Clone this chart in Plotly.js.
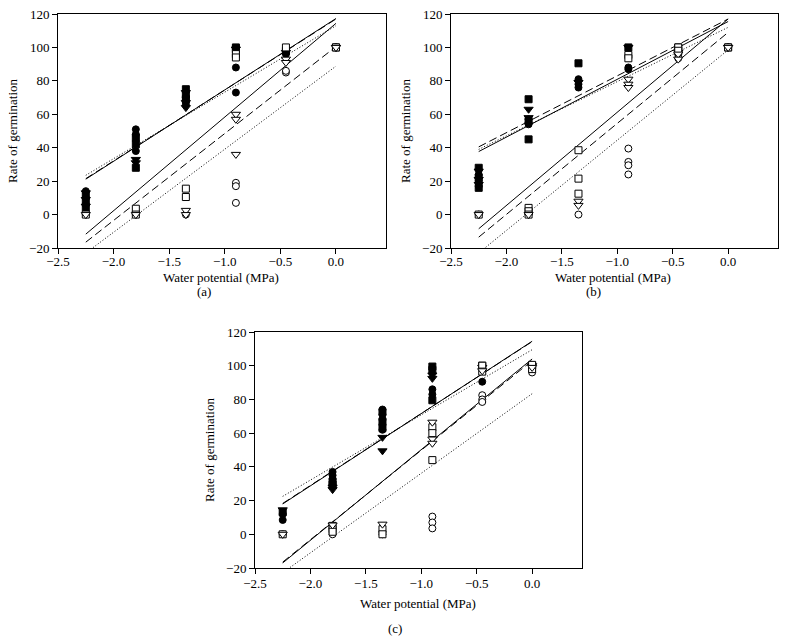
<!DOCTYPE html>
<html>
<head>
<meta charset="utf-8">
<script src="https://cdn.plot.ly/plotly-3.0.1.min.js"></script>
<style>html,body{margin:0;padding:0;background:#fff;}#chart{width:786px;height:642px;}</style>
</head>
<body>
<div id="chart"></div>
<script>
// ---------- Panel (a) ----------
var A_fc_x = [-2.25,-2.25,-2.25,-1.8,-1.8,-1.8,-1.35,-1.35,-1.35,-0.9,-0.9,-0.45,-0.45,0];
var A_fc_y = [14,10,6,51,48,38,70,68,66,88,73,96,97,100];
var A_fs_x = [-2.25,-2.25,-2.25,-1.8,-1.8,-1.8,-1.35,-1.35,-1.35,-0.9,-0.9,-0.45,0];
var A_fs_y = [12,8,4,46,42,28,75,72,69,100,99,98,100];
var A_ft_x = [-2.25,-2.25,-2.25,-1.8,-1.8,-1.35,-1.35,-1.35,-0.9,-0.45,0];
var A_ft_y = [13,9,5,33,31,73,67,64,99,97,100];
var A_oc_x = [-2.25,-1.8,-1.35,-0.9,-0.9,-0.9,-0.45,-0.45,0];
var A_oc_y = [0,0,0,19,17,7,85,86,100];
var A_os_x = [-2.25,-1.8,-1.8,-1.35,-1.35,-0.9,-0.9,-0.45,0];
var A_os_y = [0,3.5,0,15.5,10.5,96,94,100,100];
var A_ot_x = [-2.25,-1.8,-1.35,-1.35,-0.9,-0.9,-0.9,-0.45,-0.45,0];
var A_ot_y = [0,0,2.5,0,60,57,36,93,91,100];
// ---------- Panel (b) ----------
var B_fc_x = [-2.25,-2.25,-2.25,-1.8,-1.8,-1.8,-1.35,-1.35,-1.35,-0.9,-0.9,-0.45,0];
var B_fc_y = [24,20,17,57,55,54,81,78,76,88,87,96,100];
var B_fs_x = [-2.25,-2.25,-2.25,-1.8,-1.8,-1.8,-1.35,-0.9,-0.45,0];
var B_fs_y = [28,22,16,69,56,45,90.5,100,100,100];
var B_ft_x = [-2.25,-2.25,-2.25,-1.8,-1.8,-1.35,-0.9,-0.45,0];
var B_ft_y = [26,21,18,63,58,79,100,97,100];
var B_oc_x = [-2.25,-1.8,-1.35,-0.9,-0.9,-0.9,-0.9,-0.45,0];
var B_oc_y = [0,0,0,39.5,31.5,29.5,24,93.5,100];
var B_os_x = [-2.25,-1.8,-1.8,-1.8,-1.35,-1.35,-1.35,-0.9,-0.9,-0.45,-0.45,0];
var B_os_y = [0,4,2,0,38.5,21.5,12.5,95.5,93.5,100,98,100];
var B_ot_x = [-2.25,-1.8,-1.35,-1.35,-0.9,-0.9,-0.9,-0.45,-0.45,0];
var B_ot_y = [0,0,8,5.5,81,78,76,96,93,100];
// ---------- Panel (c) ----------
var C_fc_x = [-2.25,-2.25,-1.8,-1.8,-1.8,-1.35,-1.35,-1.35,-1.35,-1.35,-0.9,-0.9,-0.45,0];
var C_fc_y = [12,8.5,37,35,33,74,71,68,65,62,86,83,90.5,100];
var C_fs_x = [-2.25,-1.8,-1.8,-1.35,-1.35,-1.35,-0.9,-0.9,-0.9,-0.45,0];
var C_fs_y = [13,31,29.5,72.5,67,63,99.5,97.5,79.5,100,100];
var C_ft_x = [-2.25,-1.8,-1.8,-1.35,-1.35,-0.9,-0.9,-0.45,0];
var C_ft_y = [14.5,28,26.5,57.5,49.5,94.5,92.5,99,100];
var C_oc_x = [-2.25,-1.8,-1.35,-0.9,-0.9,-0.9,-0.45,-0.45,-0.45,0];
var C_oc_y = [0,0,0,10.5,7,3.5,82.5,80,78.5,96];
var C_os_x = [-2.25,-1.8,-1.8,-1.8,-1.35,-1.35,-0.9,-0.9,-0.9,-0.45,-0.45,0,0];
var C_os_y = [0,5,3,1.5,3,0,63.5,60,44,100,96.5,100.5,98];
var C_ot_x = [-2.25,-1.8,-1.35,-0.9,-0.9,-0.9,-0.45,0];
var C_ot_y = [0,5.5,6,66.5,56.5,54,97,99];

// ---------- Fitted lines (values at x = -2.25 and 0) ----------
var lineX = [-2.25, 0];
var A_up_solid = [21.2,117.3], A_up_dash = [21.5,117], A_up_dot = [23.5,113];
var A_lo_solid = [-11.7,114.4], A_lo_dash = [-16.5,100.5], A_lo_dot = [-23,88.8];
var B_up_solid = [37.7,115.5], B_up_dash = [40.5,117], B_up_dot = [39,112];
var B_lo_solid = [-8.5,117], B_lo_dash = [-13.5,109], B_lo_dot = [-23,98.5];
var C_up_solid = [18,114.5], C_up_dash = [18.3,114.3], C_up_dot = [22.5,109.5];
var C_lo_solid = [-17,104], C_lo_dash = [-16.5,103], C_lo_dot = [-22.8,83.4];

var xTickVals = [-2.5,-2.0,-1.5,-1.0,-0.5,0.0];
var yTickVals = [-20,0,20,40,60,80,100,120];
var xTitle = 'Water potential (MPa)';
var yTitle = 'Rate of germination';
var panelLabels = ['(a)','(b)','(c)'];

var FONT = 'Liberation Serif, Times New Roman, serif';
var FS = 13;
var traces = [];
function pts(x, y, sym, open, xa, ya) {
  traces.push({x: x, y: y, type: 'scatter', mode: 'markers', xaxis: xa, yaxis: ya,
    showlegend: false, hoverinfo: 'x+y', cliponaxis: false,
    marker: {symbol: sym, size: sym.indexOf('triangle') >= 0 ? 8 : 7, color: open ? '#fff' : '#000',
             line: {color: '#000', width: 1}}});
}
function ln(y, dash, xa, ya) {
  traces.push({x: lineX, y: y, type: 'scatter', mode: 'lines', xaxis: xa, yaxis: ya,
    showlegend: false, hoverinfo: 'skip', line: {color: '#000', width: 1, dash: dash}});
}
var panels = [
  {xa: 'x', ya: 'y', d: [[A_fc_x,A_fc_y],[A_fs_x,A_fs_y],[A_ft_x,A_ft_y],[A_oc_x,A_oc_y],[A_os_x,A_os_y],[A_ot_x,A_ot_y]],
   l: [A_up_solid,A_up_dash,A_up_dot,A_lo_solid,A_lo_dash,A_lo_dot]},
  {xa: 'x2', ya: 'y2', d: [[B_fc_x,B_fc_y],[B_fs_x,B_fs_y],[B_ft_x,B_ft_y],[B_oc_x,B_oc_y],[B_os_x,B_os_y],[B_ot_x,B_ot_y]],
   l: [B_up_solid,B_up_dash,B_up_dot,B_lo_solid,B_lo_dash,B_lo_dot]},
  {xa: 'x3', ya: 'y3', d: [[C_fc_x,C_fc_y],[C_fs_x,C_fs_y],[C_ft_x,C_ft_y],[C_oc_x,C_oc_y],[C_os_x,C_os_y],[C_ot_x,C_ot_y]],
   l: [C_up_solid,C_up_dash,C_up_dot,C_lo_solid,C_lo_dash,C_lo_dot]}
];
var syms = ['circle','square','triangle-down','circle','square','triangle-down'];
var isOpen = [false,false,false,true,true,true];
var dashes = ['solid','8px,4px','1px,2px','solid','8px,4px','1px,2px'];
panels.forEach(function(p){
  p.l.forEach(function(y,i){ ln(y, dashes[i], p.xa, p.ya); });
  p.d.forEach(function(s,i){ pts(s[0], s[1], syms[i], isOpen[i], p.xa, p.ya); });
});

function xax(dom, anchor, lblOff) {
  return {domain: dom, anchor: anchor, range: [-2.5, 0.45], tickvals: xTickVals, tickformat: '.1f',
    ticks: 'outside', ticklen: 5, tickwidth: 1, tickcolor: '#000', showline: true, mirror: true,
    linecolor: '#000', linewidth: 1, showgrid: false, zeroline: false, ticklabelstandoff: lblOff,
    tickfont: {family: FONT, size: FS, color: '#000'}};
}
function yax(dom, anchor) {
  return {domain: dom, anchor: anchor, range: [-20, 120], tickvals: yTickVals,
    ticks: 'outside', ticklen: 5, tickwidth: 1, tickcolor: '#000', showline: true, mirror: true,
    linecolor: '#000', linewidth: 1, showgrid: false, zeroline: false,
    tickfont: {family: FONT, size: FS, color: '#000'},
    title: {text: yTitle, font: {family: FONT, size: FS, color: '#000'}, standoff: 8}};
}
var W = 786, H = 642;
function fx(a,b){return [a/W, b/W];}
function fy(top,bot){return [1-bot/H, 1-top/H];}
function ann(text, px, py) {
  return {text: text, x: px/W, y: 1-py/H, xref: 'paper', yref: 'paper', showarrow: false,
    xanchor: 'center', yanchor: 'middle', font: {family: FONT, size: FS, color: '#000'}};
}
var layout = {
  width: W, height: H, margin: {l: 0, r: 0, t: 0, b: 0},
  paper_bgcolor: '#fff', plot_bgcolor: '#fff', showlegend: false,
  font: {family: FONT, size: FS, color: '#000'},
  xaxis: xax(fx(58,386), 'y', -4), yaxis: yax(fy(14,248), 'x'),
  xaxis2: xax(fx(451,778), 'y2', -4), yaxis2: yax(fy(14,248), 'x2'),
  xaxis3: xax(fx(255,582), 'y3', -2), yaxis3: yax(fy(332,568), 'x3'),
  annotations: [
    ann(xTitle, 221, 277), ann(xTitle, 613, 277), ann(xTitle, 418, 603),
    ann(panelLabels[0], 204, 291), ann(panelLabels[1], 593, 291), ann(panelLabels[2], 395, 628)
  ]
};
Plotly.newPlot('chart', traces, layout, {displayModeBar: false, staticPlot: true});
</script>
</body>
</html>
